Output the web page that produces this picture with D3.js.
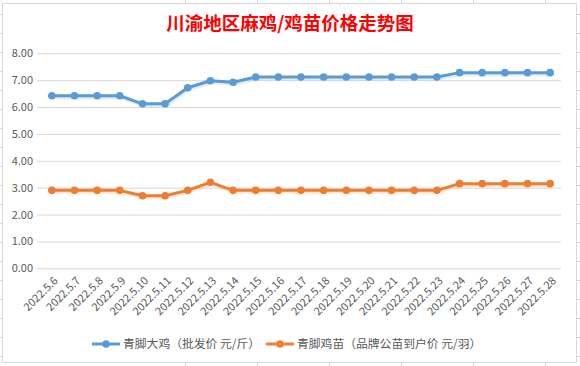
<!DOCTYPE html>
<html>
<head>
<meta charset="utf-8">
<script src="https://cdn.jsdelivr.net/npm/d3@7"></script>
<style>
  body { margin: 0; background: #fff; }
  text { font-family: "Noto Sans CJK SC", "Open Sans", sans-serif; }
</style>
</head>
<body>
<div id="chart"></div>
<script>
var dates = ['2022.5.6', '2022.5.7', '2022.5.8', '2022.5.9', '2022.5.10', '2022.5.11',
  '2022.5.12', '2022.5.13', '2022.5.14', '2022.5.15', '2022.5.16', '2022.5.17',
  '2022.5.18', '2022.5.19', '2022.5.20', '2022.5.21', '2022.5.22', '2022.5.23',
  '2022.5.24', '2022.5.25', '2022.5.26', '2022.5.27', '2022.5.28'];

// 青脚大鸡 批发价 元/斤
var henPrice = [6.42, 6.42, 6.42, 6.42, 6.12, 6.12, 6.72, 6.98, 6.92, 7.12, 7.12, 7.12,
  7.12, 7.12, 7.12, 7.12, 7.12, 7.12, 7.28, 7.28, 7.28, 7.28, 7.28];

// 青脚鸡苗 品牌公苗到户价 元/羽
var chickPrice = [2.9, 2.9, 2.9, 2.9, 2.7, 2.7, 2.9, 3.2, 2.9, 2.9, 2.9, 2.9,
  2.9, 2.9, 2.9, 2.9, 2.9, 2.9, 3.15, 3.15, 3.15, 3.15, 3.15];

var yTicks = [0, 1, 2, 3, 4, 5, 6, 7, 8];

var seriesNames = ['青脚大鸡（批发价 元/斤）', '青脚鸡苗（品牌公苗到户价 元/羽）'];
var colors = ['#5B9BD5', '#ED7D31'];

var series = [henPrice, chickPrice].map(function(vals, i) {
  return {
    name: seriesNames[i],
    color: colors[i],
    values: vals.map(function(v, j) { return {date: dates[j], value: v}; })
  };
});

var W = 580, H = 366;

var svg = d3.select('#chart').append('svg')
  .attr('width', W)
  .attr('height', H);

// spreadsheet cells behind the chart
var sheet = svg.append('g').attr('stroke', '#d4d6de').attr('stroke-width', 1);
d3.range(13.5, H, 19.05).forEach(function(y) {
  sheet.append('line').attr('x1', 0).attr('x2', W)
    .attr('y1', Math.round(y) + 0.5).attr('y2', Math.round(y) + 0.5);
});
[185, 257, 329, 401, 473, 545].forEach(function(x) {
  sheet.append('line').attr('y1', 0).attr('y2', H)
    .attr('x1', x + 0.5).attr('x2', x + 0.5);
});

// chart box
svg.append('rect')
  .attr('x', 2.5).attr('y', 3.5)
  .attr('width', 574).attr('height', 359)
  .attr('fill', '#fff')
  .attr('stroke', '#d9d9d9');

svg.append('text')
  .attr('x', 290).attr('y', 30)
  .attr('text-anchor', 'middle')
  .style('font-size', '18.5px')
  .style('font-weight', 'bold')
  .attr('fill', '#ff0000')
  .text('川渝地区麻鸡/鸡苗价格走势图');

var x = d3.scalePoint().domain(dates).range([40.5, 561.5]).padding(0.5);
var y = d3.scaleLinear().domain([0, 8]).range([268.3, 53.3]);

// gridlines + y labels
var yAxis = svg.append('g')
  .call(d3.axisLeft(y).tickValues(yTicks).tickSize(-524).tickFormat(d3.format('.2f')))
  .attr('transform', 'translate(561,0)');
yAxis.select('.domain').remove();
yAxis.selectAll('.tick line').attr('stroke', '#d9d9d9').attr('x1', 0).attr('x2', -524);
yAxis.selectAll('.tick text')
  .attr('x', -528)
  .attr('fill', '#595959')
  .style('font-size', '11px');

// x labels
var xAxis = svg.append('g')
  .attr('transform', 'translate(0,' + y(0) + ')')
  .call(d3.axisBottom(x).tickSize(0));
xAxis.select('.domain').remove();
xAxis.selectAll('.tick text')
  .attr('fill', '#595959')
  .style('font-size', '11px')
  .attr('text-anchor', 'end')
  .attr('dy', 0)
  .attr('transform', 'translate(4,11) rotate(-45)');

var line = d3.line()
  .x(function(d) { return x(d.date); })
  .y(function(d) { return y(d.value); });

var groups = svg.selectAll('.series').data(series).enter()
  .append('g').attr('class', 'series');

// soft shadow under the lines
groups.append('path')
  .attr('d', function(d) { return line(d.values); })
  .attr('fill', 'none')
  .attr('stroke', function(d) { return d.color; })
  .attr('stroke-opacity', 0.18)
  .attr('stroke-width', 3)
  .attr('transform', 'translate(1,2)');

groups.append('path')
  .attr('d', function(d) { return line(d.values); })
  .attr('fill', 'none')
  .attr('stroke', function(d) { return d.color; })
  .attr('stroke-width', 3)
  .attr('stroke-linejoin', 'round');

groups.selectAll('circle').data(function(d) { return d.values.map(function(v) { return {v: v, c: d.color}; }); })
  .enter().append('circle')
  .attr('cx', function(d) { return x(d.v.date); })
  .attr('cy', function(d) { return y(d.v.value); })
  .attr('r', 3.8)
  .attr('fill', function(d) { return d.c; });

// legend
var legendX = [92, 266];
var legend = svg.selectAll('.legend').data(series).enter()
  .append('g').attr('class', 'legend')
  .attr('transform', function(d, i) { return 'translate(' + legendX[i] + ',344)'; });
legend.append('line')
  .attr('x1', 0).attr('x2', 28)
  .attr('stroke', function(d) { return d.color; })
  .attr('stroke-width', 3);
legend.append('circle')
  .attr('cx', 14).attr('r', 3.8)
  .attr('fill', function(d) { return d.color; });
legend.append('text')
  .attr('x', 31).attr('y', 4)
  .attr('fill', '#595959')
  .style('font-size', '11.8px')
  .text(function(d) { return d.name; });
</script>
</body>
</html>
